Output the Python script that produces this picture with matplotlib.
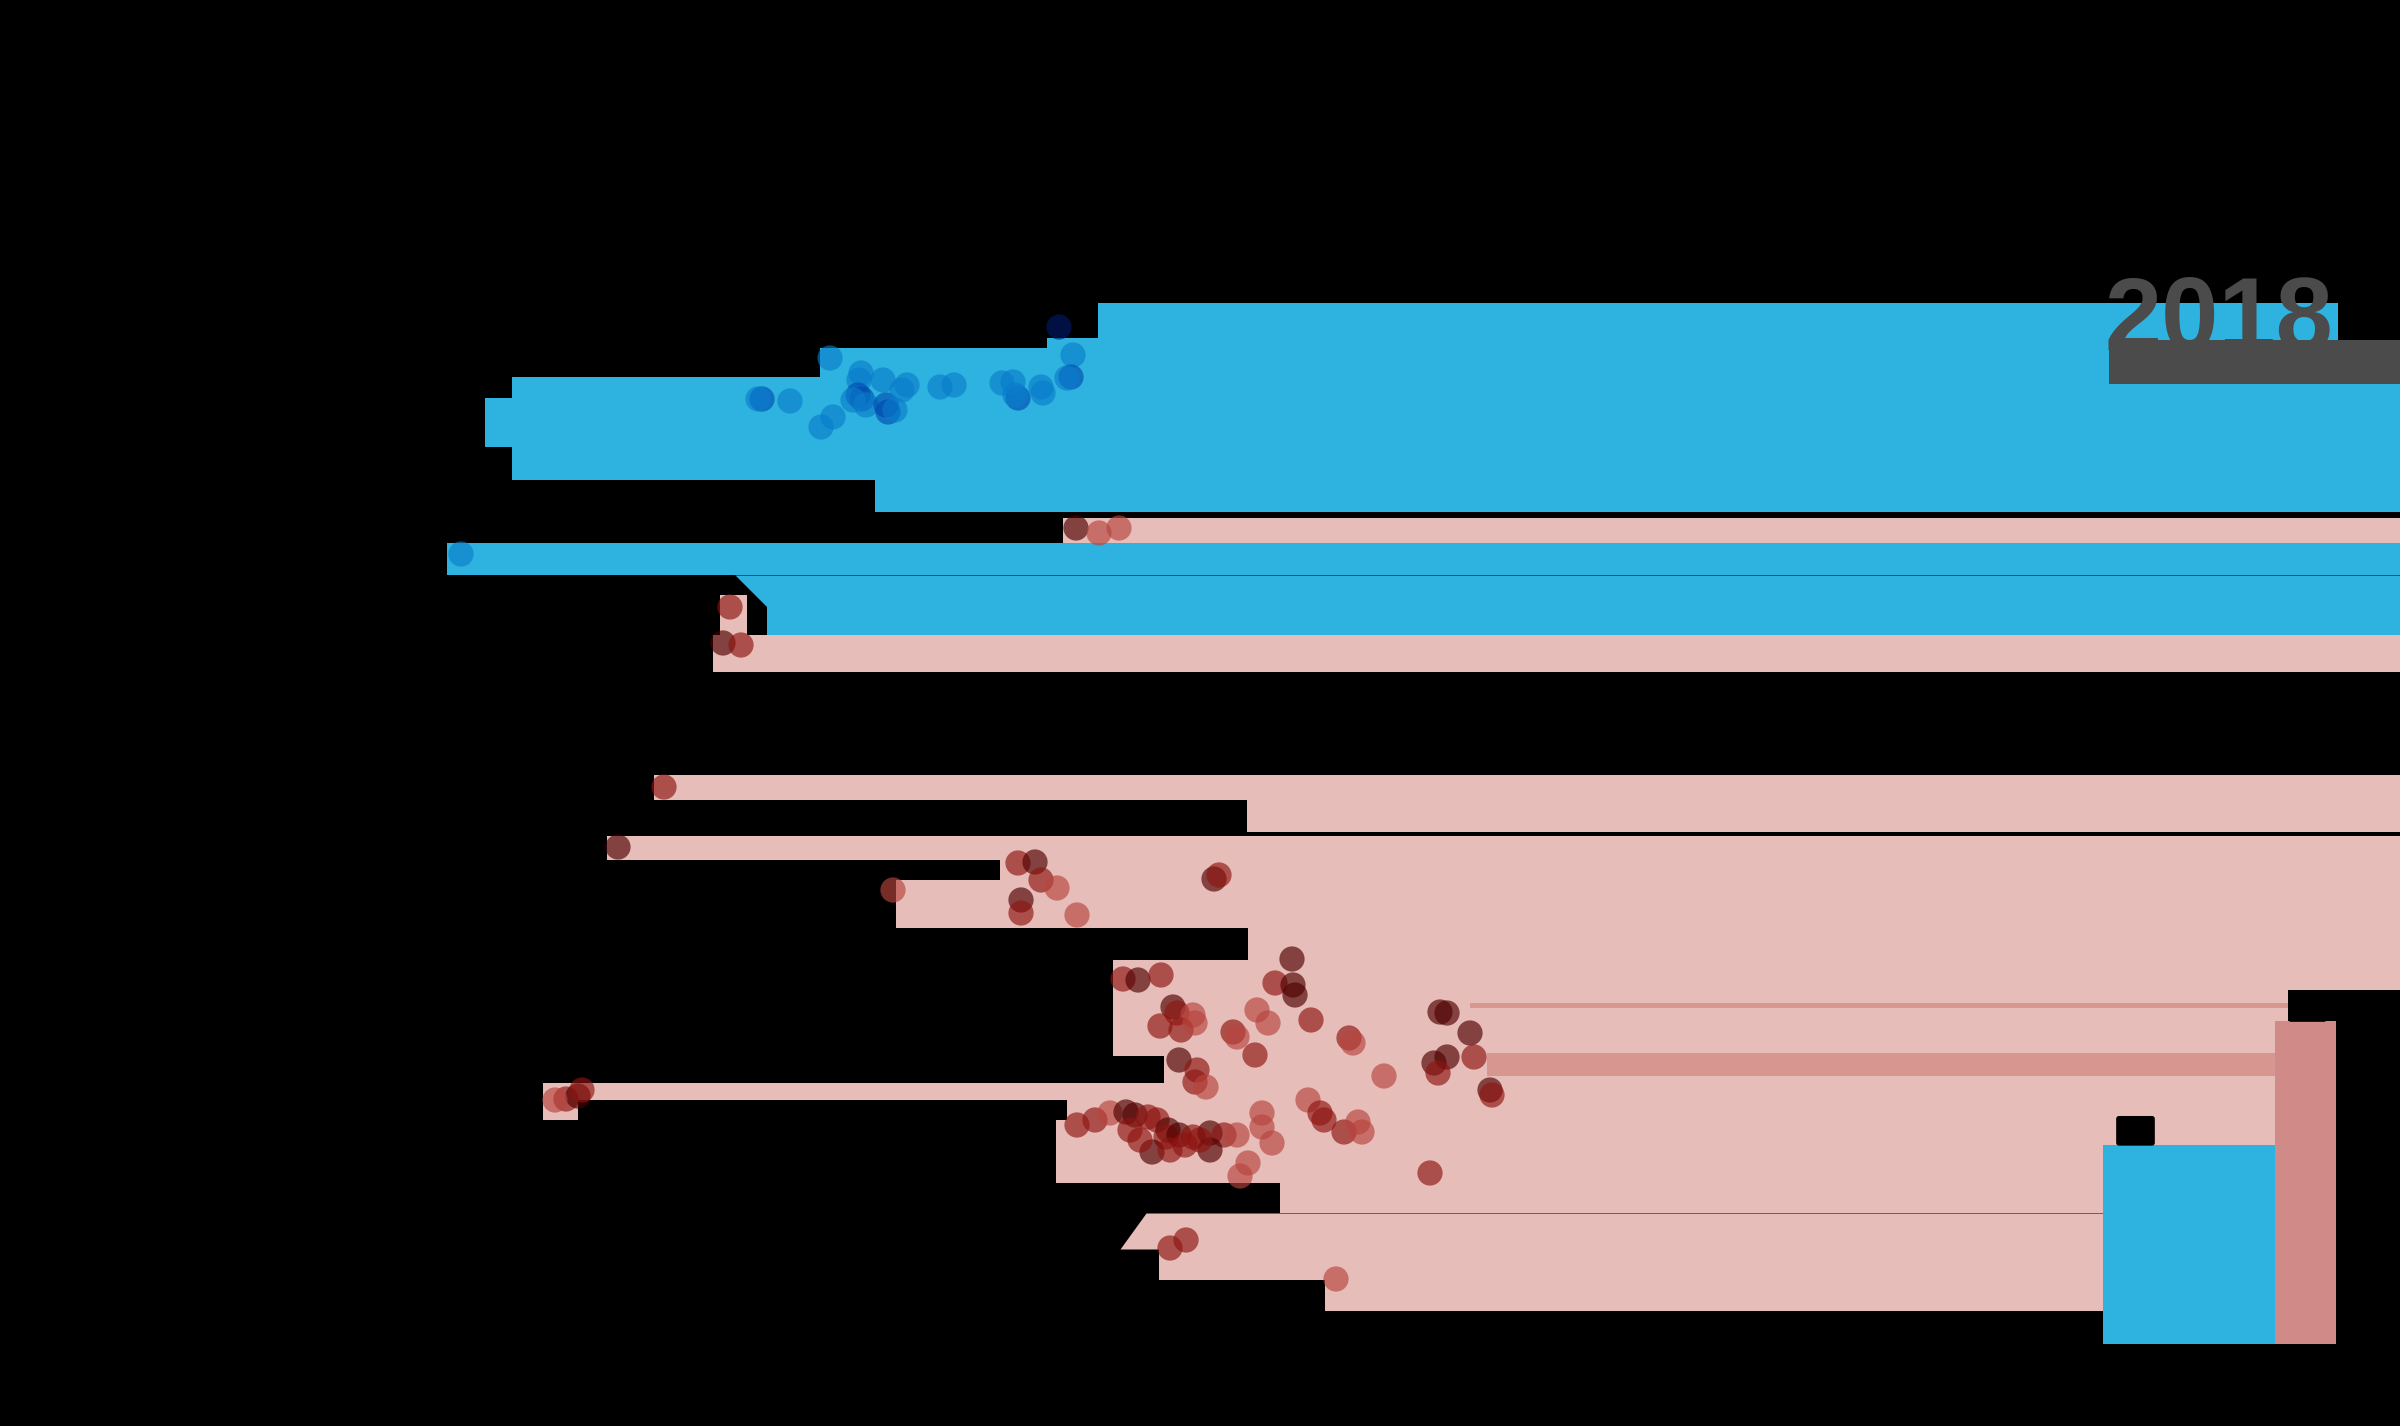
import matplotlib
matplotlib.use('Agg')
import matplotlib.pyplot as plt

# canvas is the map in pixel units (x right, y down)
WIDTH = 2400
HEIGHT = 1426

# horizontal runs of the state fill: top, bottom, left edge at top/bottom, right edge, party
BAND_TOP = [303, 338, 348, 377, 398, 480, 518, 543, 575, 607, 595, 635,
            775, 800, 836, 860, 880, 928, 960, 1056, 1083, 1100, 1100, 1120,
            1183, 1213, 1249, 1280, 1003, 1053,
            276, 340, 990, 1021]
BAND_BOTTOM = [352, 352, 377, 480, 447, 512, 543, 575, 607, 635, 635, 672,
               800, 832, 860, 880, 928, 960, 1056, 1083, 1100, 1120, 1120, 1183,
               1213, 1249, 1280, 1311, 1008, 1076,
               352, 384, 1021, 1426]
BAND_START_TOP = [1098, 1047, 820, 512, 485, 875, 1063, 447, 735, 767, 720, 713,
                  654, 1247, 607, 1000, 896, 1248, 1113, 1164, 543, 543, 1067, 1056,
                  1280, 1146, 1159, 1325, 1470, 1487,
                  2338, 2109, 2288, 2336]
BAND_START_BOTTOM = [1098, 1047, 820, 512, 485, 875, 1063, 447, 767, 767, 720, 713,
                     654, 1247, 607, 1000, 896, 1248, 1113, 1164, 543, 543, 1067, 1056,
                     1280, 1120, 1159, 1325, 1470, 1487,
                     2338, 2109, 2288, 2336]
BAND_END = [2400, 2400, 2400, 2400, 2400, 2400, 2400, 2400, 2400, 2400, 747, 2400,
            2400, 2400, 2400, 2400, 2400, 2400, 2400, 2400, 2400, 578, 2400, 2400,
            2400, 2400, 2400, 2400, 2400, 2400,
            2400, 2400, 2400, 2400]
BAND_KIND = ['D', 'D', 'D', 'D', 'D', 'D', 'R', 'D', 'D', 'D', 'R', 'R',
             'R', 'R', 'R', 'R', 'R', 'R', 'R', 'R', 'R', 'R', 'R', 'R',
             'R', 'R', 'R', 'R', 'Rd', 'Rd',
             'gap', 'year', 'gap', 'gap']

# district points (x, y, strength 1..3)
DEM_X = [1059, 1073, 1071, 1067, 830, 861, 859, 858, 862, 866, 883, 886, 888,
         907, 902, 940, 954, 1018, 1015, 1002, 1013, 1041, 1043, 833, 821, 853,
         895, 762, 758, 790, 461]
DEM_Y = [327, 355, 377, 378, 358, 373, 380, 395, 399, 405, 380, 405, 412,
         385, 390, 387, 385, 398, 395, 383, 382, 387, 393, 417, 427, 400,
         410, 399, 399, 401, 554]
DEM_STRENGTH = [3, 1, 2, 1, 1, 1, 1, 2, 2, 1, 1, 2, 2,
                1, 1, 1, 1, 2, 1, 1, 1, 1, 1, 1, 1, 1,
                1, 2, 1, 1, 1]

REP_X = [1076, 1099, 1119, 730, 723, 741, 664, 618, 893,
         1018, 1035, 1041, 1057, 1021, 1021, 1077, 1214, 1219, 1292,
         1123, 1138, 1161, 1275, 1293, 1295, 1173, 1177, 1193, 1160, 1181, 1195,
         1257, 1268, 1233, 1237, 1311, 1349, 1353, 1255,
         1440, 1447, 1470, 1474, 1447, 1434, 1438, 1490, 1492,
         1179, 1197, 1195, 1206, 1384, 1308, 1320, 1324, 1344, 1358, 1362,
         1262, 1262, 1272, 1248, 1240, 1430,
         1077, 1095, 1110, 1126, 1135, 1148, 1157, 1168, 1166, 1179, 1193, 1210,
         1224, 1237, 1152, 1170, 1210, 1130, 1140, 1185, 1200,
         1170, 1186, 1336, 566, 578, 555, 582]
REP_Y = [528, 533, 528, 607, 643, 645, 787, 847, 890,
         863, 862, 880, 888, 900, 913, 915, 879, 875, 959,
         979, 980, 975, 983, 985, 995, 1007, 1013, 1015, 1026, 1030, 1023,
         1010, 1023, 1032, 1037, 1020, 1038, 1043, 1055,
         1012, 1013, 1033, 1057, 1057, 1063, 1073, 1090, 1095,
         1060, 1070, 1082, 1087, 1076, 1100, 1113, 1120, 1132, 1122, 1132,
         1113, 1127, 1143, 1163, 1176, 1173,
         1125, 1120, 1113, 1112, 1115, 1117, 1120, 1130, 1137, 1135, 1137, 1133,
         1135, 1135, 1152, 1150, 1150, 1130, 1140, 1145, 1140,
         1248, 1240, 1279, 1099, 1096, 1100, 1090]
REP_STRENGTH = [3, 1, 1, 2, 3, 2, 2, 3, 1,
                2, 3, 2, 1, 3, 2, 1, 3, 2, 3,
                2, 3, 2, 2, 3, 3, 3, 2, 1, 2, 2, 1,
                1, 1, 2, 1, 2, 2, 1, 2,
                3, 3, 3, 2, 3, 3, 2, 3, 2,
                3, 2, 2, 1, 1, 1, 2, 2, 2, 1, 1,
                1, 1, 1, 1, 1, 2,
                2, 2, 1, 3, 3, 2, 2, 3, 2, 3, 2, 3,
                2, 1, 3, 2, 3, 2, 2, 2, 2,
                2, 2, 1, 2, 3, 1, 2]

YEAR = '2018'
BAR_PARTIES = ['D', 'R']
BAR_VALUES = [37, 60]

FILL_COLORS = {'D': '#2EB2DF', 'R': '#E6BDB9', 'Rd': '#D79690',
               'gap': 'black', 'year': '#4B4B4B'}
DEM_SHADES = {1: '#0A7CCB', 2: '#0048AE', 3: '#001A6E'}
REP_SHADES = {1: '#B8443E', 2: '#8E1410', 3: '#4E0000'}
BAR_COLORS = {'D': '#2EB2DF', 'R': '#D08B88'}

BAR_LEFT = [2103, 2275]
BAR_WIDTH = [172, 61]
BAR_BASE = 1344
BAR_SCALE = 323 / 60


def draw_bands(ax):
    for i in range(len(BAND_TOP)):
        ax.fill_betweenx([BAND_TOP[i], BAND_BOTTOM[i]],
                         [BAND_START_TOP[i], BAND_START_BOTTOM[i]],
                         BAND_END[i], color=FILL_COLORS[BAND_KIND[i]],
                         linewidth=0, zorder=1)


def draw_points(ax):
    ax.scatter(DEM_X, DEM_Y, s=330, c=[DEM_SHADES[k] for k in DEM_STRENGTH],
               alpha=0.62, linewidths=0, zorder=3)
    ax.scatter(REP_X, REP_Y, s=330, c=[REP_SHADES[k] for k in REP_STRENGTH],
               alpha=0.65, linewidths=0, zorder=3)


def draw_tally(ax):
    heights = [v * BAR_SCALE for v in BAR_VALUES]
    ax.bar(BAR_LEFT, heights, width=BAR_WIDTH, bottom=[BAR_BASE - h for h in heights],
           align='edge', color=[BAR_COLORS[p] for p in BAR_PARTIES], linewidth=0, zorder=4)
    for left, h, v in zip(BAR_LEFT, heights, BAR_VALUES):
        ax.text(left + 16, BAR_BASE - h - 2, str(v), ha='left', va='bottom',
                fontsize=17, fontweight='bold', color='black', zorder=5,
                bbox=dict(boxstyle='round,pad=0.12', fc='black', ec='none'))


def main():
    fig = plt.figure(figsize=(WIDTH / 100, HEIGHT / 100), dpi=100)
    fig.patch.set_facecolor('black')
    ax = fig.add_axes([0, 0, 1, 1])
    ax.set_facecolor('black')
    ax.set_xlim(0, WIDTH)
    ax.set_ylim(HEIGHT, 0)
    ax.axis('off')

    draw_bands(ax)
    draw_points(ax)
    draw_tally(ax)

    ax.text(2104, 350, YEAR, ha='left', va='baseline', fontsize=74, fontweight='bold',
            color='#4B4B4B', family=['Liberation Sans', 'DejaVu Sans'], zorder=2)

    fig.savefig('out.png', dpi=100, facecolor='black')


if __name__ == '__main__':
    main()
